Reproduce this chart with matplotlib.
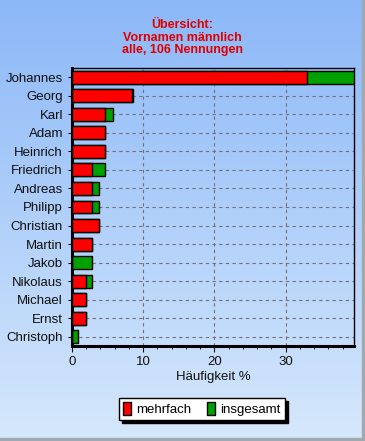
import numpy as np
import matplotlib
matplotlib.use("Agg")
import matplotlib.pyplot as plt
from matplotlib.patches import Rectangle

plt.rcParams['font.family'] = ['Liberation Sans', 'DejaVu Sans']

names = ["Johannes", "Georg", "Karl", "Adam", "Heinrich", "Friedrich", "Andreas",
         "Philipp", "Christian", "Martin", "Jakob", "Nikolaus", "Michael", "Ernst", "Christoph"]
mehrfach = [33.0, 8.4, 4.7, 4.7, 4.7, 2.8, 2.8, 2.8, 3.8, 2.8, 0.0, 1.9, 1.9, 1.9, 0.0]
insgesamt = [39.6, 8.5, 5.7, 4.7, 4.7, 4.7, 3.8, 3.8, 3.8, 2.8, 2.8, 2.8, 1.9, 1.9, 0.9]
title = "Übersicht:\nVornamen männlich\nalle, 106 Nennungen"

W, H = 365, 441
fig = plt.figure(figsize=(W / 100, H / 100), dpi=100)

# background gradient
bg = fig.add_axes([0, 0, 1, 1], zorder=-10)
top = np.array([0x8c, 0xb8, 0xf8]) / 255
bot = np.array([0xd6, 0xe8, 0xfc]) / 255
t = np.linspace(0, 1, 256)[:, None]
grad = top[None, :] * (1 - t) + bot[None, :] * t
bg.imshow(grad[:, None, :], aspect='auto', extent=[0, 1, 0, 1])
bg.add_patch(Rectangle((0.993, 0), 0.007, 1, color='#a0a8b0', transform=bg.transAxes))
bg.add_patch(Rectangle((0, 0), 1, 0.006, color='#a0a8b0', transform=bg.transAxes))
bg.set_axis_off()

ax = fig.add_axes([72 / W, 1 - 346 / H, (354 - 72) / W, (346 - 68) / H])
ax.set_facecolor('none')
y = np.arange(len(names))
ax.barh(y, insgesamt, height=0.7, color='#00a000', edgecolor='black', linewidth=1, zorder=3)
ax.barh(y, mehrfach, height=0.7, color='#ff0000', edgecolor='black', linewidth=1, zorder=4)
ax.set_ylim(len(names) - 0.5, -0.5)
ax.set_xlim(0, 39.6)
ax.set_yticks(y)
ax.set_yticklabels(names, fontsize=9.5, color='#101010')
ax.set_xticks([0, 10, 20, 30])
ax.set_xticks(np.arange(0, 40, 2), minor=True)
ax.tick_params(axis='x', labelsize=9.5, length=4, colors='#101010')
ax.tick_params(axis='x', which='minor', length=2)
ax.tick_params(axis='y', length=3)
ax.grid(True, linestyle=(0, (3, 3)), color='#707080', linewidth=0.8, zorder=1)
for s in ['left', 'bottom']:
    ax.spines[s].set_linewidth(2.2)
for s in ['top', 'right']:
    ax.spines[s].set_linewidth(1.0)
ax.set_xlabel("Häufigkeit %", fontsize=9.5, color='#101010', labelpad=2)

fig.text(0.5, 1 - 19 / H, title, ha='center', va='top', color='#e00000',
         fontsize=9, fontweight='bold', linespacing=1.08)

handles = [Rectangle((0, 0), 1, 1, facecolor='#ff0000', edgecolor='black'),
           Rectangle((0, 0), 1, 1, facecolor='#00a000', edgecolor='black')]
leg = fig.legend(handles, ["mehrfach", "insgesamt"], loc='center',
                 bbox_to_anchor=(202 / W, 1 - 409 / H), ncol=2, fontsize=9.5,
                 frameon=True, fancybox=False, shadow={'color': 'black', 'alpha': 1},
                 handlelength=0.6, handleheight=1.2, handletextpad=0.4,
                 columnspacing=1.2, borderpad=0.3, edgecolor='black')
leg.get_frame().set_linewidth(1.0)

fig.savefig("out.png", dpi=100)
